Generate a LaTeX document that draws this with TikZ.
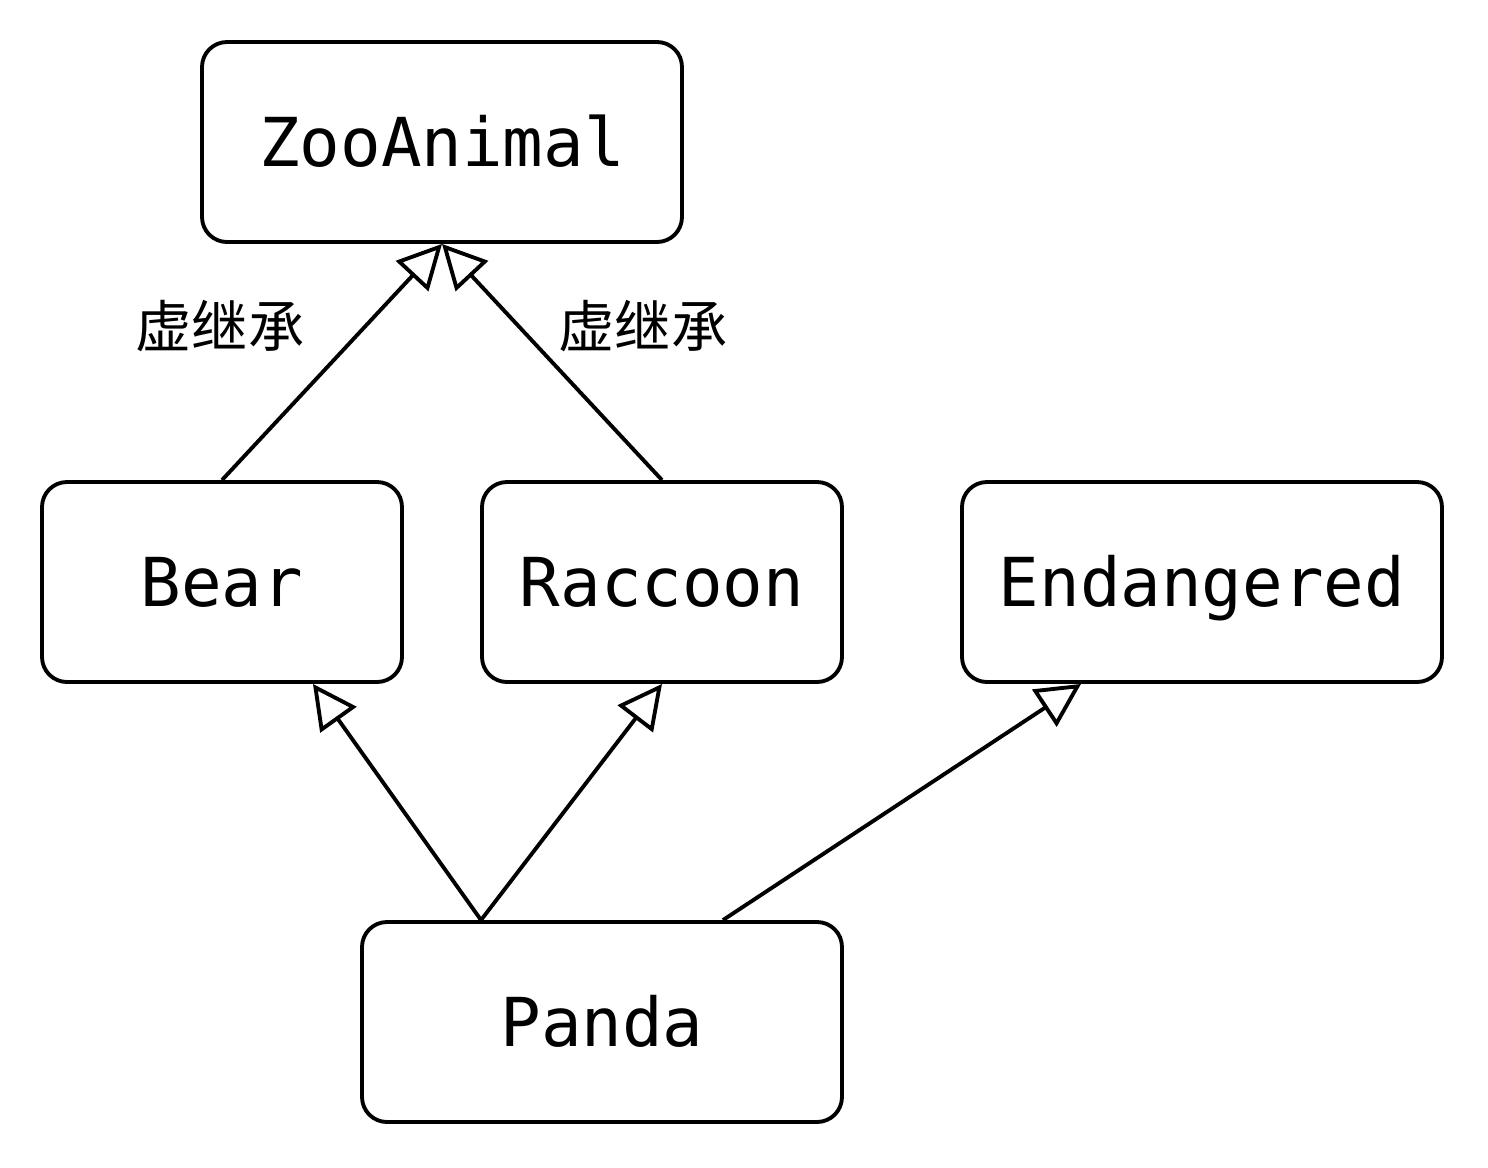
\documentclass[tikz,border=0pt]{standalone}
\usepackage{fontspec}
\setmonofont{DejaVu Sans Mono}
\newfontfamily\cjk{Noto Sans CJK SC}
\usetikzlibrary{arrows.meta,calc}

\tikzset{
  animal/.style={draw, line width=1.1pt, rounded corners=0.25cm,
    minimum width=4.8cm, minimum height=2cm, inner sep=0pt,
    text height=14pt, text depth=0pt,
    font=\ttfamily\fontsize{19.2}{19.2}\selectfont},
  small/.style={animal, minimum width=3.6cm},
  inherit/.style={line width=1.1pt,
    -{Triangle[open, length=0.44cm, width=0.44cm]}},
  vlabel/.style={font=\cjk\fontsize{16}{16}\selectfont}
}

\begin{document}
\begin{tikzpicture}
\useasboundingbox (0,0) rectangle (14.88,-11.68);

\node[animal] (zoo) at (4.42,-1.42) {ZooAnimal};
\node[small] (bear) at (2.22,-5.82) {Bear};
\node[small] (raccoon) at (6.62,-5.82) {Raccoon};
\node[animal] (endangered) at (12.02,-5.82) {Endangered};
\node[animal] (panda) at (6.02,-10.22) {Panda};

\draw[inherit] (bear.north) -- (zoo.south);
\draw[inherit] (raccoon.north) -- (zoo.south);
\draw[inherit] ($(panda.north west)!0.25!(panda.north east)$) -- ($(bear.south west)!0.75!(bear.south east)$);
\draw[inherit] ($(panda.north west)!0.25!(panda.north east)$) -- (raccoon.south);
\draw[inherit] ($(panda.north west)!0.75!(panda.north east)$) -- ($(endangered.south west)!0.25!(endangered.south east)$);

\node[vlabel] (lbear) at (2.20,-3.26) {虚继承};
\node[vlabel] (lraccoon) at (6.43,-3.26) {虚继承};
\end{tikzpicture}
\end{document}
